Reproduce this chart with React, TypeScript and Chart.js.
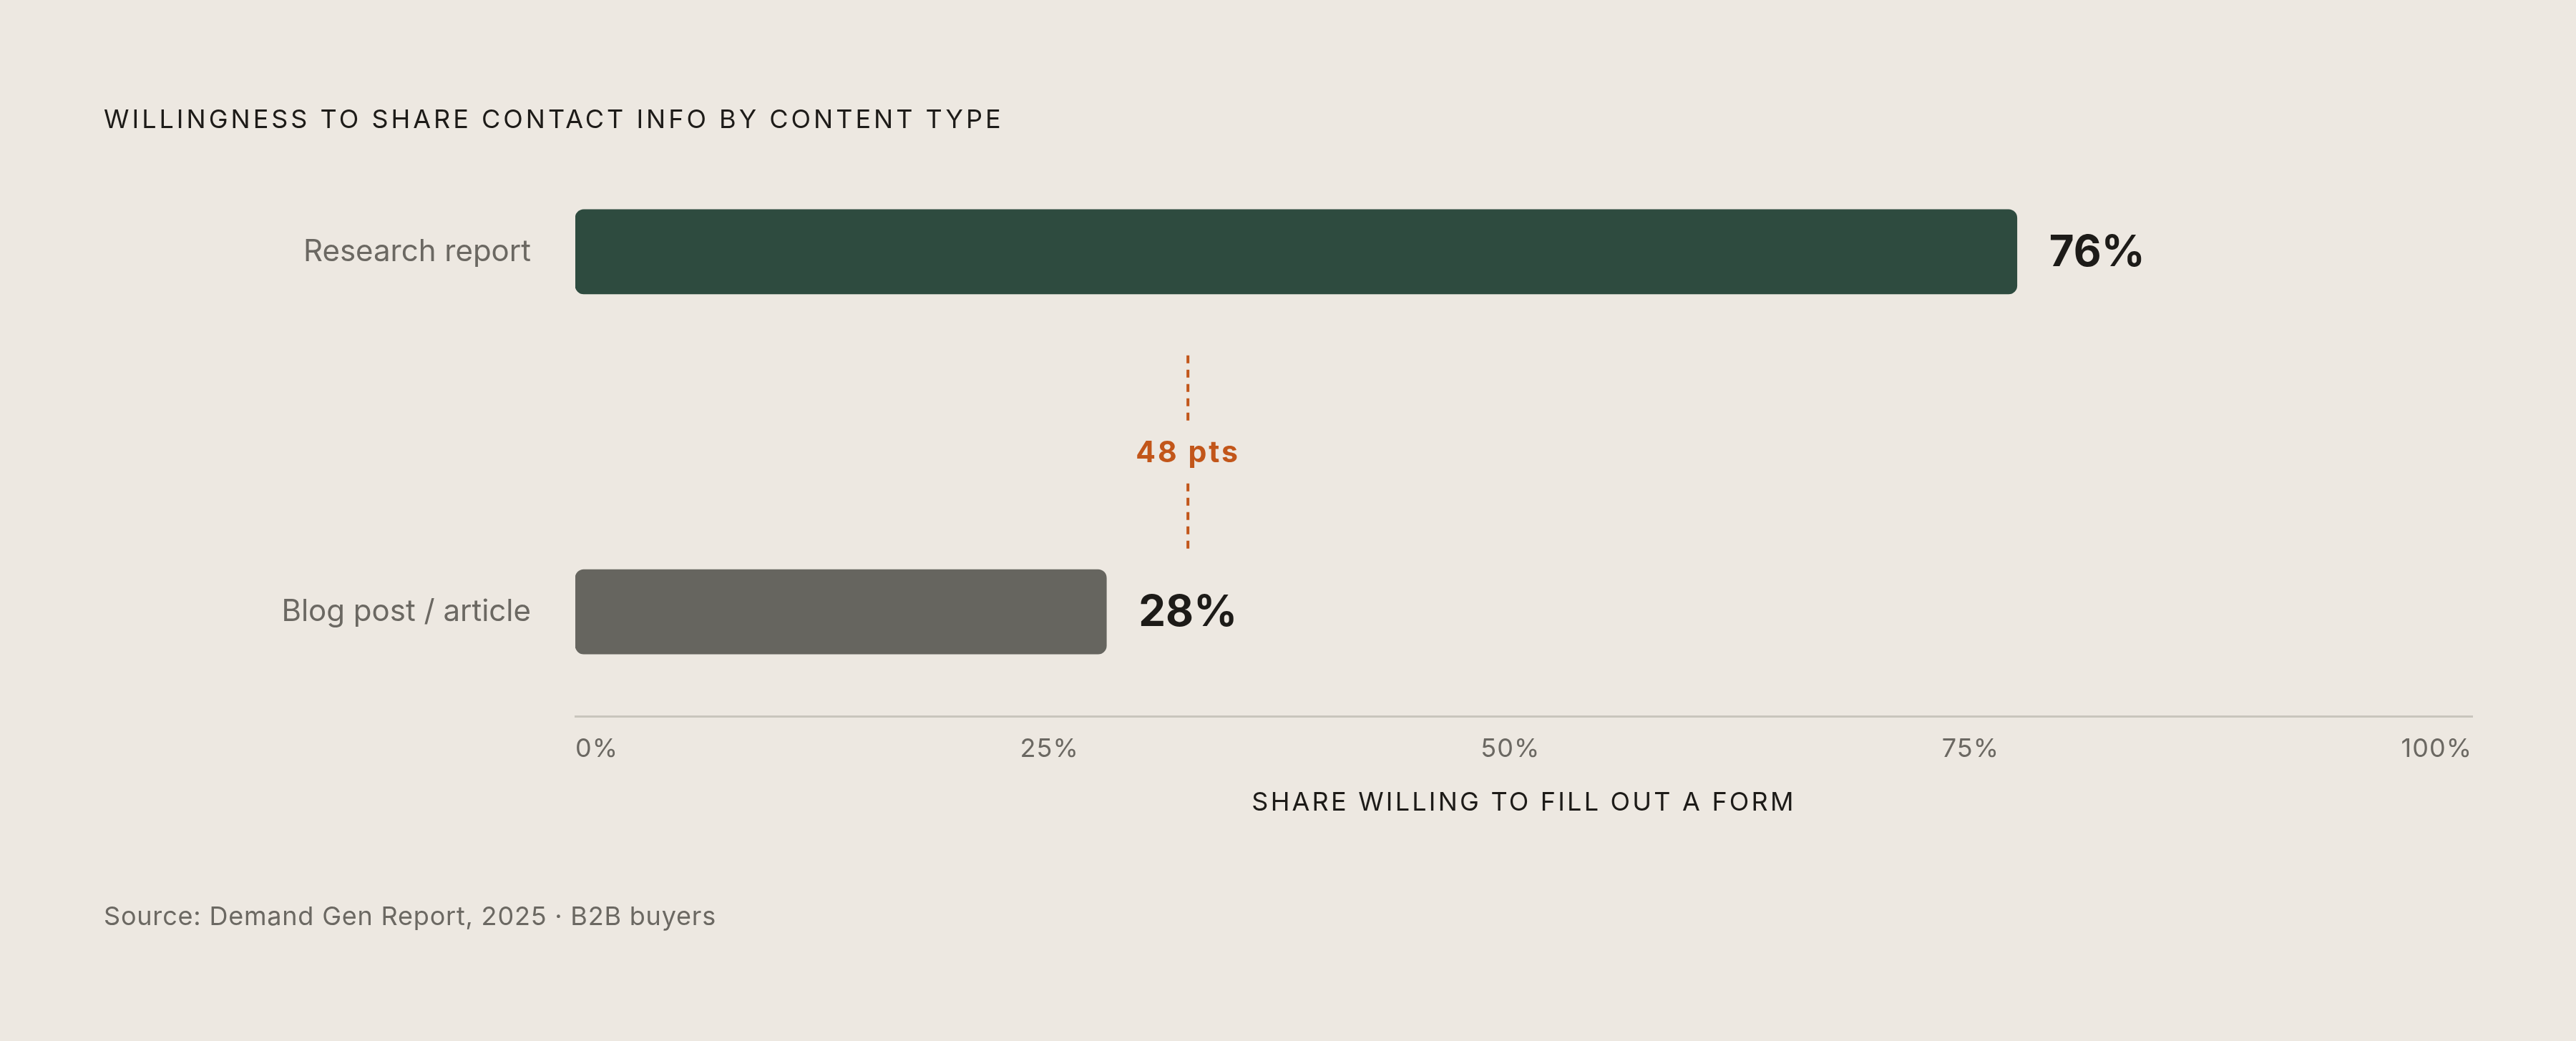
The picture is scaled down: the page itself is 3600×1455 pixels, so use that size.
import React, { useEffect, useRef } from 'react';
import Chart from 'chart.js/auto';

const CATEGORIES = ['Research report', 'Blog post / article'];
const VALUES = [76, 28];
const BAR_COLORS = ['#2E4B3F', '#66655F'];
const X_TICKS = [0, 25, 50, 75, 100];

const TITLE = 'WILLINGNESS TO SHARE CONTACT INFO BY CONTENT TYPE';
const X_TITLE = 'SHARE WILLING TO FILL OUT A FORM';
const SOURCE = 'Source: Demand Gen Report, 2025 · B2B buyers';

const WIDTH = 3600;
const HEIGHT = 1455;

const BG = '#EDE8E1';
const INK = '#1D1B18';
const MUTED = '#6B6862';
const ACCENT = '#C2561A';
const AXIS_LINE = '#C9C5BD';
const FONT = 'Inter, "Noto Sans", sans-serif';

// gap annotation sits between the two bars, in y-axis units
const ANNOT_FROM = 0.288;
const ANNOT_TO = 0.833;
const ANNOT_MID = 0.56;

const drawText = (
  ctx: CanvasRenderingContext2D,
  text: string,
  x: number,
  y: number,
  font: string,
  color: string,
  align: CanvasTextAlign,
  spacing = 0
) => {
  ctx.save();
  ctx.font = font;
  ctx.fillStyle = color;
  ctx.textAlign = align;
  ctx.textBaseline = 'middle';
  (ctx as any).letterSpacing = `${spacing}px`;
  ctx.fillText(text, x, y);
  ctx.restore();
};

const measure = (ctx: CanvasRenderingContext2D, text: string, font: string, spacing = 0) => {
  ctx.save();
  ctx.font = font;
  (ctx as any).letterSpacing = `${spacing}px`;
  const w = ctx.measureText(text).width;
  ctx.restore();
  return w;
};

const decorPlugin = {
  id: 'decor',
  afterDraw(chart: any) {
    const { ctx } = chart;
    const xs = chart.scales.x;
    const ys = chart.scales.y;

    // title + source
    drawText(ctx, TITLE, 145, 168, `400 36px ${FONT}`, INK, 'left', 4.0);
    drawText(ctx, SOURCE, 145, 1282, `400 36px ${FONT}`, MUTED, 'left', 0.8);

    // x tick labels, spread edge to edge
    const tickFont = `400 36px ${FONT}`;
    const labels = xs.ticks.map((t: any) => `${t.value}%`);
    const widths = labels.map((l: string) => measure(ctx, l, tickFont, 1));
    const total = widths.reduce((a: number, b: number) => a + b, 0);
    const gap = (xs.right - xs.left - total) / (labels.length - 1);
    let tx = xs.left;
    labels.forEach((l: string, i: number) => {
      drawText(ctx, l, tx, xs.top + 46, tickFont, MUTED, 'left', 1);
      tx += widths[i] + gap;
    });

    // axis title
    drawText(ctx, X_TITLE, (xs.left + xs.right) / 2, xs.top + 121, `400 36px ${FONT}`, INK, 'center', 3.2);

    // value labels
    const meta = chart.getDatasetMeta(0);
    const valueFont = `700 60px ${FONT}`;
    let lowCenter = 0;
    meta.data.forEach((bar: any, i: number) => {
      const label = `${VALUES[i]}%`;
      drawText(ctx, label, bar.x + 45, bar.y + 2, valueFont, INK, 'left');
      if (i === 1) lowCenter = bar.x + 45 + measure(ctx, label, valueFont) / 2;
    });

    // gap annotation
    const top = ys.getPixelForValue(ANNOT_FROM);
    const bottom = ys.getPixelForValue(ANNOT_TO);
    const mid = ys.getPixelForValue(ANNOT_MID);
    ctx.save();
    ctx.strokeStyle = ACCENT;
    ctx.lineWidth = 4;
    ctx.setLineDash([11, 9]);
    ctx.beginPath();
    ctx.moveTo(lowCenter, top);
    ctx.lineTo(lowCenter, mid - 42);
    ctx.moveTo(lowCenter, mid + 42);
    ctx.lineTo(lowCenter, bottom);
    ctx.stroke();
    ctx.restore();
    drawText(ctx, `${VALUES[0] - VALUES[1]} pts`, lowCenter, mid, `700 41px ${FONT}`, ACCENT, 'center', 3);
  },
};

const App: React.FC = () => {
  const canvasRef = useRef<HTMLCanvasElement>(null);
  const chartRef = useRef<Chart | null>(null);

  useEffect(() => {
    if (!canvasRef.current) return;
    if (chartRef.current) chartRef.current.destroy();

    chartRef.current = new Chart(canvasRef.current, {
      type: 'bar',
      data: {
        datasets: [
          {
            data: VALUES.map((v, i) => ({ x: v, y: i })),
            backgroundColor: BAR_COLORS,
            barThickness: 118,
            borderRadius: 12,
            borderSkipped: false,
          },
        ],
      },
      options: {
        indexAxis: 'y',
        responsive: false,
        devicePixelRatio: 1,
        animation: false,
        events: [],
        layout: { padding: { left: 145, right: 145, top: 50, bottom: 454 } },
        plugins: {
          legend: { display: false },
          tooltip: { enabled: false },
          title: { display: false },
        },
        scales: {
          x: {
            type: 'linear',
            min: 0,
            max: 100,
            afterBuildTicks: (scale: any) => {
              scale.ticks = X_TICKS.map((v) => ({ value: v }));
            },
            afterFit: (scale: any) => {
              scale.height = 0;
              scale.paddingLeft = 0;
              scale.paddingRight = 0;
            },
            ticks: { display: false },
            grid: { display: false, drawTicks: false },
            border: { display: true, color: AXIS_LINE, width: 3 },
          },
          y: {
            type: 'linear',
            reverse: true,
            offset: false,
            grace: 0,
            min: -0.6,
            max: 1.29,
            afterBuildTicks: (scale: any) => {
              scale.ticks = CATEGORIES.map((_, i) => ({ value: i }));
            },
            afterFit: (scale: any) => {
              scale.width = 659;
              // labels sit well inside the range, no extra room needed
              scale.paddingTop = 0;
              scale.paddingBottom = 0;
            },
            ticks: {
              padding: 62,
              color: MUTED,
              font: { family: FONT, size: 42, weight: '400' },
              callback: (v: any) => CATEGORIES[v] ?? '',
            },
            grid: { display: false, drawTicks: false, offset: false },
            border: { display: false },
          },
        },
      },
      plugins: [decorPlugin],
    });

    return () => {
      if (chartRef.current) {
        chartRef.current.destroy();
        chartRef.current = null;
      }
    };
  }, []);

  return (
    <div
      style={{
        position: 'fixed',
        left: 0,
        top: 0,
        width: WIDTH,
        height: HEIGHT,
        background: BG,
      }}
    >
      <canvas ref={canvasRef} width={WIDTH} height={HEIGHT} style={{ display: 'block' }}></canvas>
    </div>
  );
};

export default App;
